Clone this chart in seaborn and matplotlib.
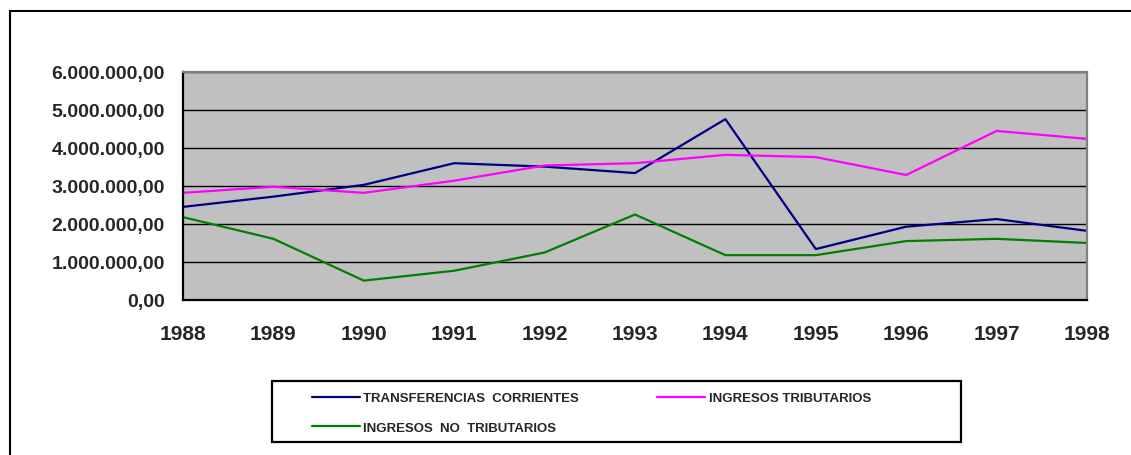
import matplotlib as mpl
import matplotlib.pyplot as plt
import matplotlib.ticker as mticker
import pandas as pd
import seaborn as sns

years = ['1988', '1989', '1990', '1991', '1992', '1993', '1994', '1995', '1996', '1997', '1998']
transferencias = [2450000, 2720000, 3030000, 3600000, 3510000, 3340000, 4760000, 1340000, 1930000, 2130000, 1820000]
tributarios = [2820000, 2980000, 2820000, 3140000, 3540000, 3600000, 3820000, 3760000, 3290000, 4450000, 4240000]
no_tributarios = [2180000, 1610000, 510000, 770000, 1250000, 2250000, 1180000, 1180000, 1550000, 1610000, 1500000]

series_names = ['TRANSFERENCIAS  CORRIENTES', 'INGRESOS TRIBUTARIOS', 'INGRESOS  NO  TRIBUTARIOS']
colors = ['#000080', '#FF00FF', '#008000']

sns.set_theme(style='white')
plt.rcParams['font.family'] = ['Liberation Sans', 'DejaVu Sans']

W, H = 1131, 456

frames = []
for name, vals in zip(series_names, [transferencias, tributarios, no_tributarios]):
    frames.append(pd.DataFrame({'pos': range(len(years)), 'valor': vals, 'serie': name}))
df = pd.concat(frames, ignore_index=True)

fig = plt.figure(figsize=(W / 100, H / 100), dpi=100)
ax = fig.add_axes([183 / W, 1 - 301 / H, (1087 - 183) / W, (301 - 73) / H])
ax.set_facecolor('#C0C0C0')

sns.lineplot(data=df, x='pos', y='valor', hue='serie', hue_order=series_names,
             palette=dict(zip(series_names, colors)), linewidth=1.6, ax=ax, legend=True)

ax.set_xlim(0, len(years) - 1)
ax.set_ylim(0, 6000000)
ax.set_xticks(range(len(years)))
ax.set_xticklabels(years)
ax.yaxis.set_major_locator(mticker.MultipleLocator(1000000))


def es_fmt(v, pos):
    s = f'{v:,.2f}'
    return s.replace(',', 'X').replace('.', ',').replace('X', '.')


ax.yaxis.set_major_formatter(mticker.FuncFormatter(es_fmt))
ax.yaxis.grid(True, color='black', linewidth=1.0)
ax.xaxis.grid(False)
ax.set_axisbelow(True)
ax.set_xlabel('')
ax.set_ylabel('')

for side in ('left', 'bottom'):
    ax.spines[side].set_color('black')
    ax.spines[side].set_linewidth(1.6)
for side in ('top', 'right'):
    ax.spines[side].set_color('#808080')
    ax.spines[side].set_linewidth(1.6)

ax.tick_params(axis='y', direction='out', length=5, width=1.5, color='black', pad=8,
               labelsize=14)
ax.tick_params(axis='x', direction='in', length=5, width=1.5, color='black', pad=17,
               labelsize=15)
for lbl in ax.get_xticklabels() + ax.get_yticklabels():
    lbl.set_fontweight('bold')

handles, labels = ax.get_legend_handles_labels()
ax.get_legend().remove()
# matplotlib fills legend columns first; reorder so rows read like the original
order = [0, 2, 1]
leg = fig.legend([handles[i] for i in order], [labels[i] for i in order],
                 ncol=2, loc='upper left',
                 bbox_to_anchor=(312 / W, 1 - 393 / H),
                 frameon=False, borderpad=0, borderaxespad=0,
                 handlelength=3.6, handletextpad=0.3, columnspacing=5.9,
                 labelspacing=1.33,
                 prop={'weight': 'bold', 'size': 9.5})

# legend box
fig.patches.append(mpl.patches.Rectangle((272 / W, 1 - 443 / H), (961 - 272) / W, (443 - 382) / H,
                                         transform=fig.transFigure, fill=False,
                                         edgecolor='black', linewidth=1.6))
# outer chart-area frame (cut off at the right and bottom)
fig.patches.append(mpl.patches.Rectangle((10 / W, -0.1), 1.2, 1 - 12 / H + 0.1,
                                         transform=fig.transFigure, fill=False,
                                         edgecolor='black', linewidth=1.5))

fig.savefig('out.png', dpi=100)
